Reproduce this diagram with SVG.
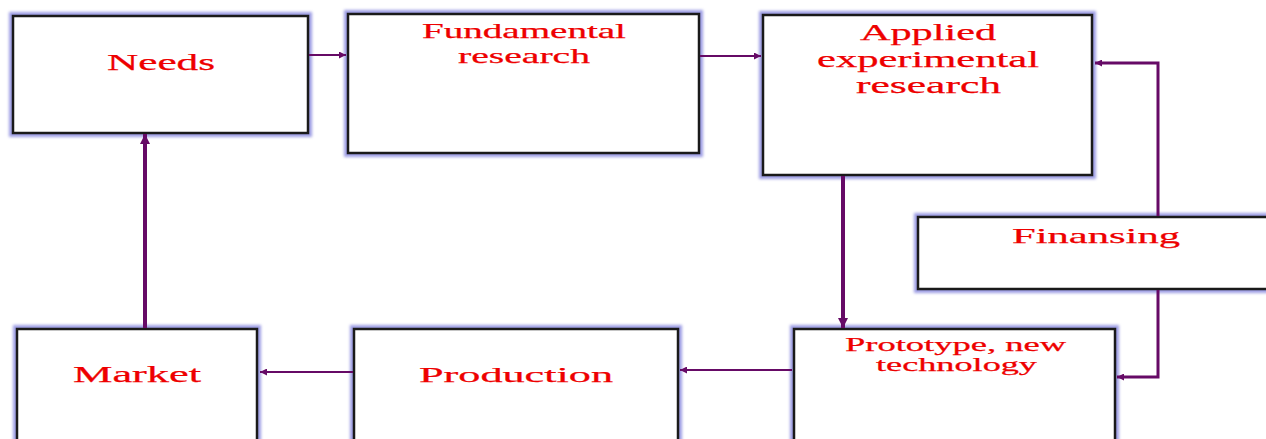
<svg xmlns="http://www.w3.org/2000/svg" width="1266" height="439" viewBox="0 0 1266 439">
<style>
.glow{fill:none;stroke:#9c9ce4;stroke-width:8;filter:url(#blur)}
.box{fill:#ffffff;stroke:#1a1a1a;stroke-width:2.5}
.lbl{font-family:"Liberation Serif","Times New Roman",serif;font-weight:normal;fill:#ee0000;stroke:#ee0000;stroke-width:0.25}
.conn{fill:none;stroke:#660a66;stroke-width:2}
.mid{stroke-width:3}
.thick{stroke-width:4}
</style>
<defs>
<filter id="blur" x="-10%" y="-10%" width="120%" height="120%"><feGaussianBlur stdDeviation="1.6"/></filter>
<marker id="ah" viewBox="0 0 10 10" refX="10" refY="5" markerUnits="userSpaceOnUse" markerWidth="9" markerHeight="7" orient="auto"><path d="M0,0 L10,5 L0,10 z" fill="#660a66"/></marker>
<marker id="ahb" viewBox="0 0 10 10" refX="10" refY="5" markerUnits="userSpaceOnUse" markerWidth="10" markerHeight="11" orient="auto"><path d="M0,0 L10,5 L0,10 z" fill="#660a66"/></marker>
</defs>

<g id="needs">
<rect class="glow" x="13" y="16" width="295" height="117"/>
<rect class="box" x="13" y="16" width="295" height="117"/>
<text class="lbl" x="107" y="70" font-size="24" textLength="108" lengthAdjust="spacingAndGlyphs">Needs</text>
</g>
<g id="fundamental">
<rect class="glow" x="348" y="14" width="351" height="139"/>
<rect class="box" x="348" y="14" width="351" height="139"/>
<text class="lbl" x="422" y="38" font-size="21" textLength="204" lengthAdjust="spacingAndGlyphs">Fundamental</text>
<text class="lbl" x="458" y="63" font-size="21" textLength="132" lengthAdjust="spacingAndGlyphs">research</text>
</g>
<g id="applied">
<rect class="glow" x="763" y="15" width="329" height="160"/>
<rect class="box" x="763" y="15" width="329" height="160"/>
<text class="lbl" x="860" y="40" font-size="23" textLength="136" lengthAdjust="spacingAndGlyphs">Applied</text>
<text class="lbl" x="817" y="67" font-size="23" textLength="222" lengthAdjust="spacingAndGlyphs">experimental</text>
<text class="lbl" x="856" y="93" font-size="23" textLength="145" lengthAdjust="spacingAndGlyphs">research</text>
</g>
<g id="finansing">
<rect class="glow" x="918" y="217" width="360" height="72"/>
<rect class="box" x="918" y="217" width="360" height="72"/>
<text class="lbl" x="1012" y="243" font-size="22" textLength="168" lengthAdjust="spacingAndGlyphs">Finansing</text>
</g>
<g id="prototype">
<rect class="glow" x="794" y="329" width="321" height="130"/>
<rect class="box" x="794" y="329" width="321" height="130"/>
<text class="lbl" x="845" y="351" font-size="19" textLength="221" lengthAdjust="spacingAndGlyphs">Prototype, new</text>
<text class="lbl" x="876" y="371" font-size="19" textLength="161" lengthAdjust="spacingAndGlyphs">technology</text>
</g>
<g id="production">
<rect class="glow" x="354" y="329" width="324" height="130"/>
<rect class="box" x="354" y="329" width="324" height="130"/>
<text class="lbl" x="419" y="382" font-size="22" textLength="194" lengthAdjust="spacingAndGlyphs">Production</text>
</g>
<g id="market">
<rect class="glow" x="17" y="329" width="240" height="130"/>
<rect class="box" x="17" y="329" width="240" height="130"/>
<text class="lbl" x="73" y="382" font-size="23" textLength="128" lengthAdjust="spacingAndGlyphs">Market</text>
</g>

<g id="connectors">
<path class="conn" d="M309,55 L346,55" marker-end="url(#ah)"/>
<path class="conn" d="M700,56 L761,56" marker-end="url(#ah)"/>
<path class="conn mid" d="M1158,216 L1158,63 L1095,63" marker-end="url(#ah)"/>
<path class="conn mid" d="M1158,290 L1158,377 L1117,377" marker-end="url(#ah)"/>
<path class="conn thick" d="M843,176 L843,328" marker-end="url(#ahb)"/>
<path class="conn" d="M792,370 L680,370" marker-end="url(#ah)"/>
<path class="conn" d="M353,372 L260,372" marker-end="url(#ah)"/>
<path class="conn thick" d="M145,328 L145,134" marker-end="url(#ahb)"/>
</g>
</svg>
